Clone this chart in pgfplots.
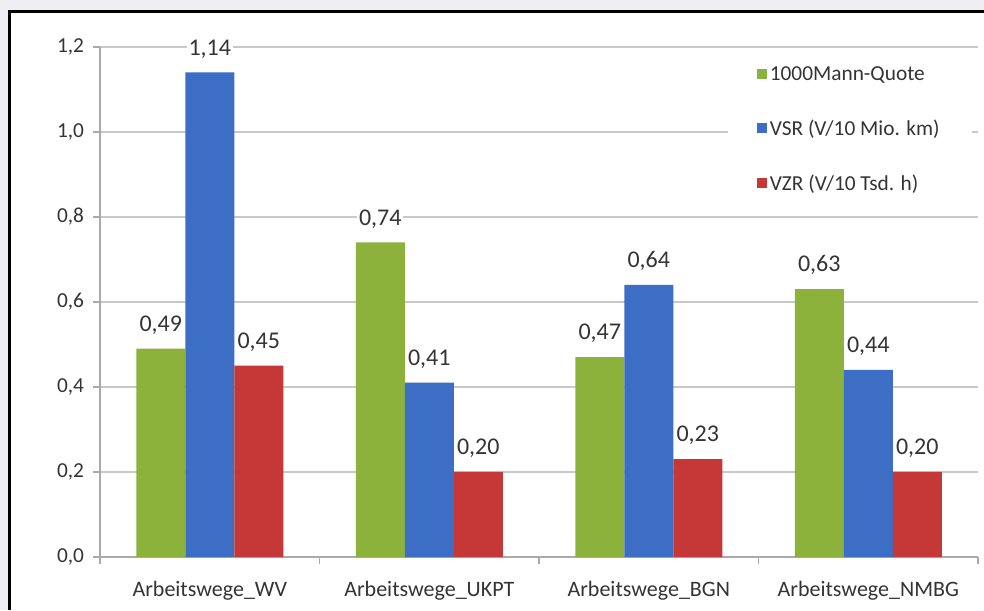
\documentclass[border=0pt]{standalone}
\usepackage{fontspec}
\setmainfont{Carlito}
\usepackage{pgfplots}
\pgfplotsset{compat=1.18}
\usepackage{pgfplotstable}

\definecolor{outerbg}{RGB}{238,238,243}
\definecolor{qgreen}{RGB}{140,178,60}
\definecolor{qblue}{RGB}{59,110,196}
\definecolor{qred}{RGB}{198,56,55}
\definecolor{gridgray}{RGB}{200,200,200}
\definecolor{axisgray}{RGB}{170,170,170}
\definecolor{txtgray}{RGB}{52,52,52}

% accident rates per route group
\pgfplotstableread{
x quote vsr vzr
0 0.49 1.14 0.45
1 0.74 0.41 0.20
2 0.47 0.64 0.23
3 0.63 0.44 0.20
}\ratetable

\pgfplotsset{
  sqlegend/.style={legend image code/.code={\fill[##1] (0pt,-3.75pt) rectangle (7.5pt,3.75pt);}},
}

\begin{document}
\begin{tikzpicture}
\fill[outerbg] (0pt,0pt) rectangle (738pt,457.5pt);
\fill[white] (7.1pt,0pt) rectangle (738pt,448.9pt);
\draw[black, line width=2.4pt, line cap=butt] (7.1pt,0pt) -- (7.1pt,448.9pt) -- (738pt,448.9pt);

\begin{axis}[
  at={(75pt,39.75pt)}, anchor=south west,
  scale only axis,
  width=658.5pt, height=382.5pt,
  ybar=0pt, bar width=36.75pt,
  xmin=-0.5, xmax=3.5,
  ymin=0, ymax=1.2,
  xtick={-0.5,0.5,1.5,2.5,3.5},
  x tick label as interval,
  xticklabels={Arbeitswege\_WV,Arbeitswege\_UKPT,Arbeitswege\_BGN,Arbeitswege\_NMBG},
  ytick={0,0.2,0.4,0.6,0.8,1.0,1.2},
  ymajorgrids,
  grid style={gridgray, line width=1pt},
  axis x line*=bottom,
  axis y line*=left,
  axis line style={axisgray, line width=1pt},
  tick style={axisgray, line width=1pt},
  tick align=outside,
  major tick length=5.5pt,
  /pgf/number format/assume math mode=true,
  yticklabel style={/pgf/number format/fixed, /pgf/number format/fixed zerofill,
    /pgf/number format/precision=1, /pgf/number format/use comma},
  yticklabel shift=3pt,
  ticklabel style={font=\fontsize{16}{18}\selectfont, text=txtgray},
  xticklabel style={font=\fontsize{16.5}{18}\selectfont, yshift=-9pt},
  nodes near coords,
  nodes near coords style={/pgf/number format/fixed, /pgf/number format/fixed zerofill,
    /pgf/number format/precision=2, /pgf/number format/use comma},
  every node near coord/.append style={font=\fontsize{18}{20}\selectfont, text=txtgray, fill=white, inner sep=1.5pt, yshift=9pt},
  legend style={at={(rel axis cs:0.993,0.994)}, anchor=north east, draw=none, fill=white,
    font=\fontsize{16}{18}\selectfont, text=txtgray, inner xsep=22pt, inner ysep=10pt, row sep=24pt},
  legend cell align=left,
  clip=false,
]
\addplot[sqlegend, fill=qgreen, draw=none] table[x=x, y=quote] {\ratetable};
\addlegendentry{1000Mann-Quote}
\addplot[sqlegend, fill=qblue, draw=none] table[x=x, y=vsr] {\ratetable};
\addlegendentry{VSR (V/10 Mio. km)}
\addplot[sqlegend, fill=qred, draw=none] table[x=x, y=vzr] {\ratetable};
\addlegendentry{VZR (V/10 Tsd. h)}
\end{axis}
% blank right margin of the panel
\fill[white] (734.5pt,0pt) rectangle (738pt,447.7pt);
% page size fixed to the framed panel
\pgfresetboundingbox
\path[use as bounding box] (0pt,0pt) rectangle (738pt,457.5pt);
\end{tikzpicture}
\end{document}
